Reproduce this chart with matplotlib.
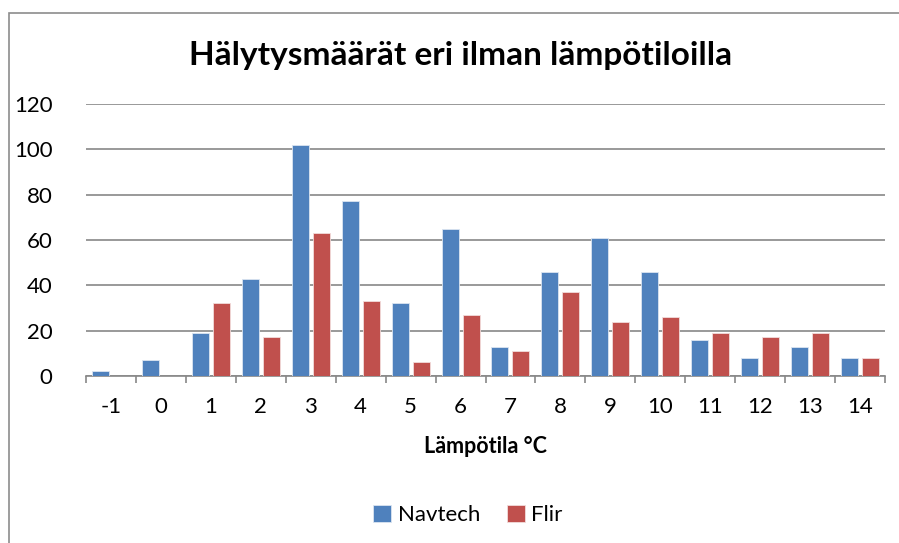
"""Hälytysmäärät eri ilman lämpötiloilla -- grouped bar chart."""

import matplotlib

matplotlib.use("Agg")
import matplotlib.pyplot as plt
import numpy as np
from matplotlib.patches import Rectangle

TEMPS = ["-1", "0", "1", "2", "3", "4", "5", "6", "7", "8", "9", "10", "11", "12", "13", "14"]
NAVTECH = [2, 7, 19, 43, 102, 77, 32, 65, 13, 46, 61, 46, 16, 8, 13, 8]
FLIR = [0, 0, 32, 17, 63, 33, 6, 27, 11, 37, 24, 26, 19, 17, 19, 8]
Y_TICKS = [0, 20, 40, 60, 80, 100, 120]

BLUE = "#4F81BD"
RED = "#C0504D"
GRID = "#888888"

plt.rcParams["font.family"] = ["Lato", "DejaVu Sans"]

fig = plt.figure(figsize=(8.99, 5.43), dpi=100)
ax = fig.add_axes([86 / 899, 1 - 376 / 543, (885 - 86) / 899, (376 - 104) / 543])

x = np.arange(len(TEMPS))
w = 0.34
ax.bar(x - 0.21, NAVTECH, w, color=BLUE, edgecolor="#dbe5f1", linewidth=0.6, label="Navtech", zorder=3)
ax.bar(x + 0.21, FLIR, w, color=RED, edgecolor="#f2dcdb", linewidth=0.6, label="Flir", zorder=3)

ax.set_xlim(-0.5, len(TEMPS) - 0.5)
ax.set_ylim(0, 120)
ax.set_yticks(Y_TICKS)
ax.yaxis.grid(True, color=GRID, linewidth=1.2)
ax.set_axisbelow(True)
ax.tick_params(axis="y", length=0, pad=24, labelsize=16)

ax.set_xticks(x)
ax.set_xticklabels(TEMPS)
ax.set_xticks(np.arange(len(TEMPS) + 1) - 0.5, minor=True)
ax.tick_params(axis="x", which="major", length=0, pad=15, labelsize=16)
ax.tick_params(axis="x", which="minor", length=5, width=1.2, color=GRID)

for side in ("left", "right", "top"):
    ax.spines[side].set_visible(False)
ax.spines["bottom"].set_color(GRID)
ax.spines["bottom"].set_linewidth(1.2)

ax.set_xlabel("Lämpötila °C", fontsize=15.5, fontweight="bold", labelpad=14)
fig.text(461 / 899, 1 - 55 / 543, "Hälytysmäärät eri ilman lämpötiloilla",
         ha="center", va="center", fontsize=24, fontweight="bold")

fig.legend(loc="center", bbox_to_anchor=(468 / 899, 1 - 515 / 543), ncol=2,
           frameon=False, fontsize=16, handlelength=0.8, handleheight=0.8,
           handletextpad=0.3, columnspacing=1.2)

fig.patches.append(Rectangle((9 / 899, -0.1), 1.2, 1 - 13 / 543 + 0.1,
                             transform=fig.transFigure, fill=False,
                             edgecolor="#8c8c8c", linewidth=1.2))

fig.savefig("out.png", dpi=100)
